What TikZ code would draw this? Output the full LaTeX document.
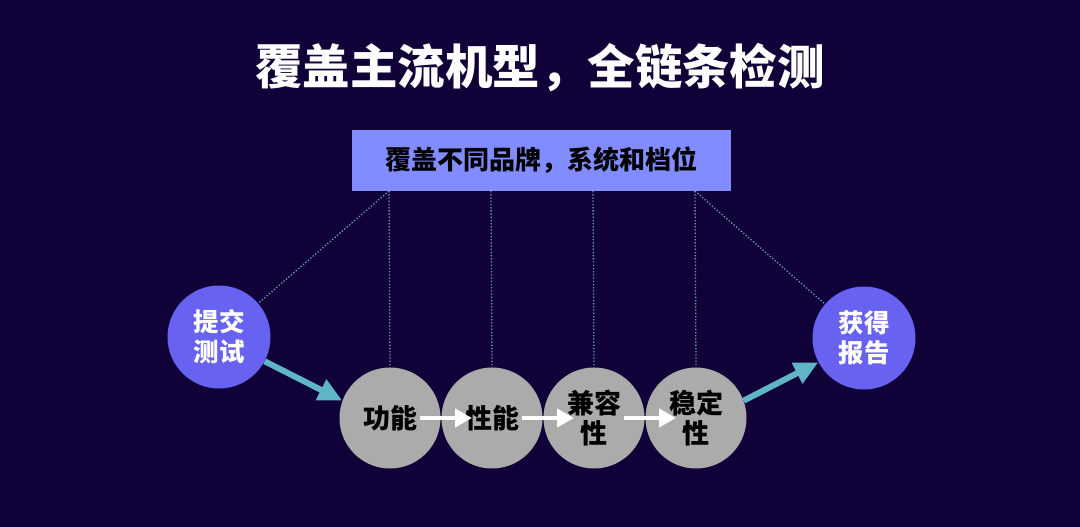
\documentclass[tikz,border=0pt]{standalone}
\usepackage{fontspec}
\setmainfont{Noto Sans CJK SC}
\newfontfamily\cjk{Noto Sans CJK SC}
\usetikzlibrary{arrows.meta}
\definecolor{bgnavy}{RGB}{16,2,56}
\definecolor{boxblue}{RGB}{128,140,255}
\definecolor{circblue}{RGB}{104,98,240}
\definecolor{circgray}{RGB}{171,171,171}
\definecolor{dotcol}{RGB}{115,155,195}
\definecolor{tealarrow}{RGB}{96,180,200}
\tikzset{
  graycirc/.style={circle,fill=circgray,minimum size=101pt,inner sep=0pt,font=\cjk\bfseries\fontsize{27}{30}\selectfont,text=black,align=center},
  bluecirc/.style={circle,fill=circblue,minimum size=103pt,inner sep=0pt,font=\cjk\bfseries\fontsize{25.5}{30}\selectfont,text=white,align=center},
  dotline/.style={dotcol,line width=1.3pt,dash pattern=on 1.3pt off 1.9pt},
  whitearrow/.style={white,line width=4.5pt,-{Triangle[length=17pt,width=18pt]}},
  tealarr/.style={tealarrow,line width=6pt,-{Triangle[length=24pt,width=22pt]}}
}
\begin{document}
\begin{tikzpicture}[x=1pt,y=-1pt]
\fill[bgnavy] (0,0) rectangle (1080,527);
\useasboundingbox (0,0) rectangle (1080,527);
\node[font=\cjk\bfseries\fontsize{47.5}{52}\selectfont,text=white] (title) at (540,68) {覆盖主流机型，全链条检测};
\node[fill=boxblue,minimum width=379pt,minimum height=61pt,inner sep=0pt,font=\cjk\bfseries\fontsize{26}{30}\selectfont,text=black] (box) at (541.5,160.5) {覆盖不同品牌，系统和档位};
\coordinate (b1) at (389,191);
\coordinate (b2) at (491,191);
\coordinate (b3) at (593,191);
\coordinate (b4) at (695,191);
\node[bluecirc] (submit) at (219,337) {提交\\测试};
\node[bluecirc] (report) at (864,338) {获得\\报告};
\node[graycirc] (c1) at (390,418) {功能};
\node[graycirc] (c2) at (492,418) {性能};
\node[graycirc] (c3) at (594,418) {兼容\\性};
\node[graycirc] (c4) at (696,418) {稳定\\性};
\draw[dotline] (b1) -- (c1.north);
\draw[dotline] (b2) -- (c2.north);
\draw[dotline] (b3) -- (c3.north);
\draw[dotline] (b4) -- (c4.north);
\draw[dotline] (b1) -- (submit);
\draw[dotline] (b4) -- (report);
\draw[whitearrow] ([xshift=30pt]c1.center) -- ([xshift=-20pt]c2.center);
\draw[whitearrow] ([xshift=30pt]c2.center) -- ([xshift=-20pt]c3.center);
\draw[whitearrow] ([xshift=30pt]c3.center) -- ([xshift=-20pt]c4.center);
\draw[tealarr] (submit.-28) -- (c1.160);
\draw[tealarr] (c4.20) -- (report.-152);
\end{tikzpicture}
\end{document}
